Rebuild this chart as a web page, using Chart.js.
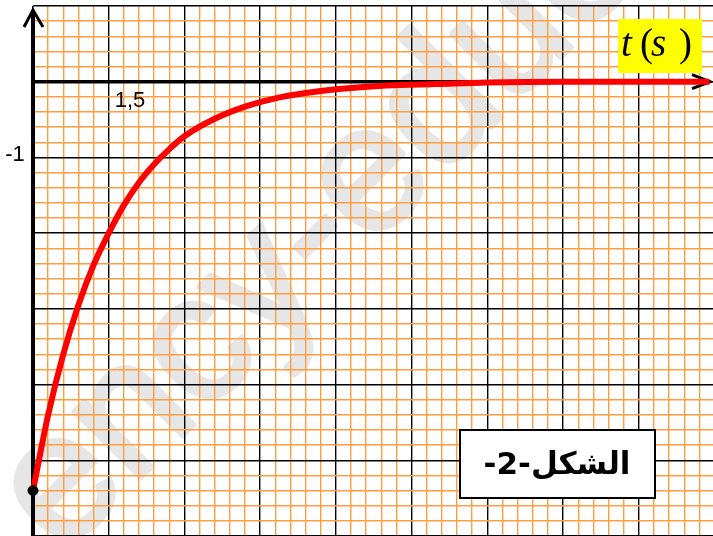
<!DOCTYPE html>
<html>
<head>
<meta charset="utf-8">
<script src="https://cdn.jsdelivr.net/npm/chart.js@4/dist/chart.umd.min.js"></script>
<style>
  html, body { margin: 0; padding: 0; background: #fff; overflow: hidden; }
  canvas { display: block; }
</style>
</head>
<body>
<canvas id="curveChart" width="713" height="536"></canvas>
<script>
// values (t in s, y in graph units)
const times  = [0, 0.3, 0.6, 0.9, 1.2, 1.5, 1.8, 2.1, 2.4, 2.7, 3.0, 3.6, 4.2, 4.8, 5.4, 6.0, 7.0, 8.0, 9.0, 10.5, 12.0, 13.4];
const values = [-5.4, -4.4, -3.6, -2.95, -2.42, -2.0, -1.63, -1.33, -1.09, -0.89, -0.72, -0.49, -0.33, -0.22, -0.15, -0.1, -0.05, -0.03, -0.01, 0, 0, 0];

const xLabelValues = [1.5];
const xLabels = ['1,5'];
const yLabelValues = [-1];
const yLabels = ['-1'];

const axisTitle = ['t', '(', 's', ')'];
const figureLabel = 'الشكل-2-';
const watermark = 'ency-education';

const ORANGE = 'rgb(255,158,65)';

function isMultiple(v, step) {
  const r = v / step;
  return Math.abs(r - Math.round(r)) < 1e-6;
}

const paperPlugin = {
  id: 'paper',
  beforeDraw(chart) {
    const c = chart.ctx;
    c.save();
    c.translate(64, 488);
    c.rotate(-45 * Math.PI / 180);
    c.font = '178px "Liberation Sans", Arial, sans-serif';
    c.fillStyle = '#e6e6e6';
    c.strokeStyle = '#e6e6e6';
    c.lineWidth = 5;
    c.lineJoin = 'round';
    c.textBaseline = 'alphabetic';
    c.strokeText(watermark, -50, 47);
    c.fillText(watermark, -50, 47);
    c.restore();
  },
  beforeDatasetsDraw(chart) {
    const c = chart.ctx;
    const x = chart.scales.x, y = chart.scales.y;
    const x0 = x.getPixelForValue(0), y0 = y.getPixelForValue(0);
    c.save();
    c.strokeStyle = '#000';
    c.lineCap = 'butt';
    // y axis
    c.lineWidth = 4;
    c.beginPath();
    c.moveTo(x0, 10);
    c.lineTo(x0, 536);
    c.stroke();
    c.lineWidth = 3;
    c.lineJoin = 'miter';
    c.beginPath();
    c.moveTo(x0 - 9, 27);
    c.lineTo(x0, 10);
    c.lineTo(x0 + 10, 27);
    c.stroke();
    // x axis
    c.lineWidth = 3.5;
    c.beginPath();
    c.moveTo(x0, y0);
    c.lineTo(709, y0);
    c.stroke();
    c.lineWidth = 3;
    c.beginPath();
    c.moveTo(692, y0 - 7);
    c.lineTo(710, y0);
    c.lineTo(692, y0 + 7);
    c.stroke();
    c.restore();
  },
  afterDraw(chart) {
    const c = chart.ctx;
    const x = chart.scales.x, y = chart.scales.y;
    c.save();
    c.fillStyle = '#000';
    c.font = '22px "Liberation Sans", Arial, sans-serif';
    c.textAlign = 'left';
    c.textBaseline = 'middle';
    xLabelValues.forEach((v, i) => {
      c.fillText(xLabels[i], x.getPixelForValue(v) + 6, y.getPixelForValue(0) + 19);
    });
    c.textAlign = 'center';
    yLabelValues.forEach((v, i) => {
      c.fillText(yLabels[i], 15, y.getPixelForValue(v) - 2);
    });

    // t (s) box
    c.fillStyle = '#ffff00';
    c.fillRect(618, 19, 84, 54);
    c.fillStyle = '#000';
    c.textAlign = 'left';
    c.textBaseline = 'alphabetic';
    const pos = [621, 640, 651, 679];
    axisTitle.forEach((ch, i) => {
      c.font = (i % 2 === 0 ? 'italic ' : '') + '39px "Liberation Serif", "Times New Roman", serif';
      c.fillText(ch, pos[i], 56);
    });

    // figure label box
    c.fillStyle = '#fff';
    c.fillRect(460, 430, 195, 68);
    c.lineWidth = 2;
    c.strokeStyle = '#000';
    c.strokeRect(460, 430, 195, 68);
    c.fillStyle = '#000';
    c.font = 'bold 31px "DejaVu Sans", sans-serif';
    c.direction = 'rtl';
    c.textAlign = 'center';
    c.textBaseline = 'middle';
    c.fillText(figureLabel, 557, 466);
    c.restore();
  }
};

new Chart(document.getElementById('curveChart'), {
  type: 'line',
  data: {
    datasets: [{
      label: 'start',
      data: [{x: times[0], y: values[0]}],
      showLine: false,
      pointRadius: 5,
      pointBackgroundColor: '#000',
      pointBorderColor: '#000',
      clip: false
    }, {
      label: 'y(t)',
      data: times.map((t, i) => ({x: t, y: values[i]})),
      borderColor: '#ff0000',
      borderWidth: 6,
      pointRadius: 0,
      cubicInterpolationMode: 'monotone',
      fill: false,
      clip: false
    }]
  },
  options: {
    responsive: false,
    animation: false,
    events: [],
    layout: { autoPadding: false, padding: { left: 33, top: 6, right: 0, bottom: 0 } },
    plugins: { legend: { display: false }, tooltip: { enabled: false } },
    scales: {
      x: {
        type: 'linear',
        bounds: 'data',
        min: 0,
        max: 13.47,
        border: { display: false },
        ticks: { display: false, stepSize: 0.3, includeBounds: false },
        grid: {
          drawTicks: false,
          color: ctx => isMultiple(ctx.tick.value, 1.5) ? '#000' : (isMultiple(ctx.tick.value, 0.3) ? ORANGE : 'rgba(0,0,0,0)'),
          lineWidth: 1.4
        }
      },
      y: {
        type: 'linear',
        min: -6,
        max: 1,
        border: { display: false },
        ticks: { display: false, stepSize: 0.2 },
        grid: {
          drawTicks: false,
          color: ctx => isMultiple(ctx.tick.value, 1) ? '#000' : ORANGE,
          lineWidth: 1.4
        }
      }
    }
  },
  plugins: [paperPlugin]
});
</script>
</body>
</html>
